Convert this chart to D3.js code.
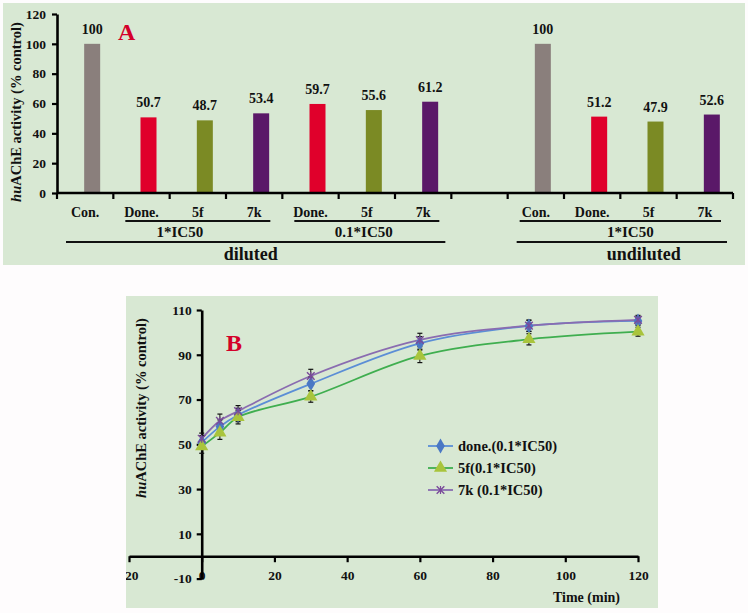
<!DOCTYPE html>
<html><head><meta charset="utf-8">
<script src="https://cdn.jsdelivr.net/npm/d3@7"></script>
<style>
html,body{margin:0;padding:0;background:#fefcfd;}
svg text{font-family:"Liberation Serif","Times New Roman",serif;font-weight:bold;fill:#111;}
</style></head>
<body>
<svg id="c" width="748" height="613"></svg>
<script>
// ---------- Panel A data ----------
const catLabels = ["Con.","Done.","5f","7k","Done.","5f","7k","","Con.","Done.","5f","7k"];
const catKinds  = ["con","done","f5","k7","done","f5","k7","","con","done","f5","k7"];
const barValues = [100,50.7,48.7,53.4,59.7,55.6,61.2,null,100,51.2,47.9,52.6];
const barValueText = ["100","50.7","48.7","53.4","59.7","55.6","61.2","","100","51.2","47.9","52.6"];
const yTicksA = [0,20,40,60,80,100,120];
const groupLabels = ["1*IC50","0.1*IC50","diluted","1*IC50","undiluted"];
const groupFrom   = [1,4,0,8,8];
const groupTo     = [3,6,6,11,11];
const groupLevel  = [1,1,2,1,2];

// ---------- Panel B data ----------
const timeMin = [0,5,10,30,60,90,120];
const doneVals = [50.8,57.9,63.1,77.0,95.1,102.9,105.1];
const f5Vals   = [49.0,55.2,62.1,71.3,89.5,96.9,100.3];
const k7Vals   = [52.5,60.5,64.8,80.5,96.6,103.0,105.6];
const doneErr  = [3,3,3,3,3,2.5,2];
const f5Err    = [3,3,3,2.5,3,2.5,2];
const k7Err    = [2.5,3,2.5,3,3,2.5,2];
const seriesNames = ["done.(0.1*IC50)","5f(0.1*IC50)","7k (0.1*IC50)"];
const xTicksB = [-20,0,20,40,60,80,100,120];
const yTicksB = [-10,10,30,50,70,90,110];

// ---------- style ----------
const groupLabelDx = [-18,-3,-5,10,22];
const svg = d3.select("#c");
const BG = "#d8e8d3";
const kindColor = {con:"#8a7f7c", done:"#e0002b", f5:"#7b8a24", k7:"#5a1868"};
const fmt = d => String(d);  // plain hyphen minus

// ================= Panel A =================
svg.append("rect").attr("x",3).attr("y",3).attr("width",742).attr("height",262).attr("fill",BG);
const gA = svg.append("g");
const xA = d3.scaleBand().domain(d3.range(catLabels.length)).range([57,733]).padding(0);
const yA = d3.scaleLinear().domain([0,120]).range([193,14]);
const bw = 16, barShift = 7;

gA.selectAll("rect.bar").data(barValues.map((v,i)=>({v,i})).filter(d=>d.v!=null))
  .enter().append("rect")
  .attr("x",d=>xA(d.i)+xA.bandwidth()/2+barShift-bw/2)
  .attr("y",d=>yA(d.v)).attr("width",bw).attr("height",d=>yA(0)-yA(d.v))
  .attr("fill",d=>kindColor[catKinds[d.i]]);

gA.selectAll("text.val").data(barValues.map((v,i)=>({v,i})).filter(d=>d.v!=null))
  .enter().append("text")
  .attr("x",d=>xA(d.i)+xA.bandwidth()/2+barShift)
  .attr("y",d=>yA(d.v)-10).attr("text-anchor","middle").attr("font-size",14)
  .text(d=>barValueText[d.i]);

// y axis
const yAxA = gA.append("g").attr("transform","translate(57,0)")
  .call(d3.axisLeft(yA).tickValues(yTicksA).tickFormat(fmt).tickSize(5).tickPadding(6).tickSizeOuter(0));
yAxA.select(".domain").attr("stroke","#000").attr("stroke-width",2.6);
yAxA.selectAll(".tick line").attr("stroke","#000").attr("stroke-width",2.2);
yAxA.selectAll("text").attr("font-size",13.5).attr("font-family","Liberation Serif").attr("font-weight","bold").attr("fill","#111");

// x axis
gA.append("line").attr("x1",xA.range()[0]).attr("x2",xA.range()[1]).attr("y1",yA(0)).attr("y2",yA(0))
  .attr("stroke","#000").attr("stroke-width",2.6);
const bounds = d3.range(catLabels.length+1).map(i=> i<catLabels.length ? xA(i) : xA.range()[1]);
gA.selectAll("line.xt").data(bounds).enter().append("line")
  .attr("x1",d=>d).attr("x2",d=>d).attr("y1",yA(0)).attr("y2",yA(0)+6)
  .attr("stroke","#000").attr("stroke-width",2.2);
gA.selectAll("text.cat").data(catLabels).enter().append("text")
  .attr("x",(d,i)=>xA(i)+xA.bandwidth()/2).attr("y",217)
  .attr("text-anchor","middle").attr("font-size",14).text(d=>d);

// group brackets
groupLabels.forEach((lab,k)=>{
  const lvl = groupLevel[k];
  const x1 = xA(groupFrom[k]) + (lvl===1?12:9);
  const x2 = xA(groupTo[k]) + xA.bandwidth() - (lvl===1?12:6);
  const ly = lvl===1 ? 221 : 242;
  gA.append("line").attr("x1",x1).attr("x2",x2).attr("y1",ly).attr("y2",ly)
    .attr("stroke","#111").attr("stroke-width",1.8);
  gA.append("text").attr("x",(x1+x2)/2+groupLabelDx[k]).attr("y",lvl===1?237:260)
    .attr("text-anchor","middle").attr("font-size",lvl===1?15:18).text(lab);
});

// y title A
const tA = gA.append("text").attr("transform","translate(21,112) rotate(-90)")
  .attr("text-anchor","middle").attr("font-size",14.5);
tA.append("tspan").attr("font-style","italic").text("hu");
tA.append("tspan").text("AChE activity (% control)");

gA.append("text").attr("x",118).attr("y",40).attr("font-size",24).style("fill","#d4002a").text("A");

// ================= Panel B =================
svg.append("defs").append("clipPath").attr("id","clipB")
  .append("rect").attr("x",126).attr("y",296).attr("width",532).attr("height",312);
svg.append("rect").attr("x",126).attr("y",296).attr("width",532).attr("height",312).attr("fill",BG);
const gB = svg.append("g").attr("clip-path","url(#clipB)");
const xB = d3.scaleLinear().domain([-20,120]).range([129,638]);
const yB = d3.scaleLinear().domain([-10,110]).range([578.6,310]);

// x axis
const xAxB = gB.append("g").attr("transform",`translate(0,${yB(0)})`)
  .call(d3.axisBottom(xB).tickValues(xTicksB).tickFormat(fmt).tickSize(6).tickPadding(8).tickSizeOuter(0));
xAxB.select(".domain").attr("stroke","#000").attr("stroke-width",2.6);
xAxB.selectAll(".tick line").attr("stroke","#000").attr("stroke-width",2.2);
xAxB.selectAll("text").attr("font-size",13.5).attr("font-family","Liberation Serif").attr("font-weight","bold").attr("fill","#111");

// y axis
const yAxB = gB.append("g").attr("transform",`translate(${xB(0)},0)`)
  .call(d3.axisLeft(yB).tickValues(yTicksB).tickFormat(fmt).tickSize(5).tickPadding(5).tickSizeOuter(0));
yAxB.select(".domain").attr("stroke","#000").attr("stroke-width",2.6);
yAxB.selectAll(".tick line").attr("stroke","#000").attr("stroke-width",2.2);
yAxB.selectAll("text").attr("font-size",13.5).attr("font-family","Liberation Serif").attr("font-weight","bold").attr("fill","#111");

const series = [
  {vals:doneVals, err:doneErr, line:"#5b8ed6", mark:"#4a78c4", sym:"diamond"},
  {vals:f5Vals,   err:f5Err,   line:"#3fae4f", mark:"#a9c43c", sym:"triangle"},
  {vals:k7Vals,   err:k7Err,   line:"#8a6cb0", mark:"#7a4a9a", sym:"x"}
];
const lineGen = d3.line().x((d,i)=>xB(timeMin[i])).y(d=>yB(d)).curve(d3.curveCatmullRom.alpha(0.5));
series.forEach(s=>{
  gB.append("path").attr("d",lineGen(s.vals)).attr("fill","none").attr("stroke",s.line).attr("stroke-width",1.8);
});
series.forEach(s=>{
  s.vals.forEach((v,i)=>{
    const cx = xB(timeMin[i]);
    gB.append("line").attr("x1",cx).attr("x2",cx).attr("y1",yB(v+s.err[i])).attr("y2",yB(v-s.err[i]))
      .attr("stroke","#111").attr("stroke-width",1);
    [v+s.err[i], v-s.err[i]].forEach(e=>{
      gB.append("line").attr("x1",cx-2.5).attr("x2",cx+2.5).attr("y1",yB(e)).attr("y2",yB(e))
        .attr("stroke","#111").attr("stroke-width",1.2);
    });
  });
});
function drawMarker(g, sym, cx, cy, s){
  if(sym==="diamond"){
    g.append("path").attr("d",d3.symbol(d3.symbolDiamond,65)()).attr("transform",`translate(${cx},${cy})`).attr("fill",s.mark);
  } else if(sym==="triangle"){
    g.append("path").attr("d",d3.symbol(d3.symbolTriangle,75)()).attr("transform",`translate(${cx},${cy})`).attr("fill",s.mark);
  } else {
    g.append("path").attr("d",d3.symbol(d3.symbolX,40)()).attr("transform",`translate(${cx},${cy})`)
      .attr("fill","none").attr("stroke",s.mark).attr("stroke-width",1.4);
    g.append("line").attr("x1",cx).attr("x2",cx).attr("y1",cy-4).attr("y2",cy+4).attr("stroke",s.mark).attr("stroke-width",1.2);
  }
}
series.forEach(s=>{
  s.vals.forEach((v,i)=>drawMarker(gB, s.sym, xB(timeMin[i]), yB(v), s));
});

// legend
seriesNames.forEach((n,k)=>{
  const ly = 446 + k*22, s = series[k];
  gB.append("line").attr("x1",428).attr("x2",453).attr("y1",ly).attr("y2",ly).attr("stroke",s.line).attr("stroke-width",1.8);
  drawMarker(gB, s.sym, 440.5, ly, s);
  gB.append("text").attr("x",458).attr("y",ly+5).attr("font-size",14.5).text(n);
});

gB.append("text").attr("x",620).attr("y",602).attr("text-anchor","end").attr("font-size",14).text("Time (min)");

const tB = gB.append("text").attr("transform","translate(146,408) rotate(-90)")
  .attr("text-anchor","middle").attr("font-size",14.5);
tB.append("tspan").attr("font-style","italic").text("hu");
tB.append("tspan").text("AChE activity (% control)");

gB.append("text").attr("x",226).attr("y",351).attr("font-size",24).style("fill","#d4002a").text("B");
</script>
</body></html>
